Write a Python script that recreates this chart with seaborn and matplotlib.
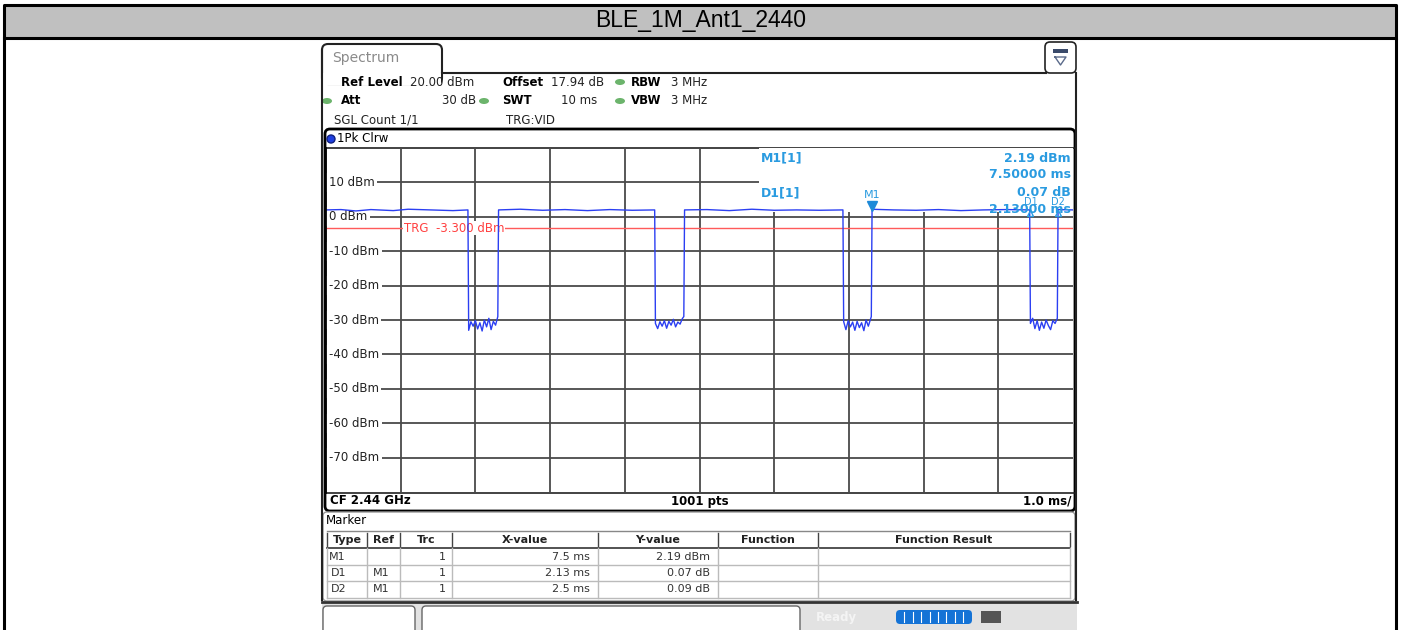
import pandas as pd
import seaborn as sns
import matplotlib.pyplot as plt
from matplotlib.patches import FancyBboxPatch, Rectangle, Ellipse

plt.rcParams['font.family'] = ['DejaVu Sans']

# 1. Trace values (time in ms, level in dBm)
t_ms = [0.00, 0.20, 0.40, 0.60, 0.90, 1.10, 1.40, 1.70, 1.90,
        1.91, 1.94, 1.97, 2.00, 2.03, 2.06, 2.09, 2.12, 2.15, 2.18, 2.21, 2.24, 2.27, 2.30,
        2.31, 2.60, 2.90, 3.20, 3.50, 3.80, 4.10, 4.40,
        4.41, 4.44, 4.47, 4.50, 4.53, 4.56, 4.59, 4.62, 4.65, 4.68, 4.71, 4.74, 4.77, 4.79,
        4.80, 5.10, 5.40, 5.70, 6.00, 6.30, 6.60, 6.92,
        6.93, 6.96, 6.99, 7.02, 7.05, 7.08, 7.11, 7.14, 7.17, 7.20, 7.23, 7.26, 7.30,
        7.31, 7.60, 7.90, 8.20, 8.50, 8.80, 9.10, 9.42,
        9.43, 9.46, 9.49, 9.52, 9.55, 9.58, 9.61, 9.64, 9.67, 9.70, 9.73, 9.76, 9.79,
        9.80, 10.00]
level_dbm = [2.0, 2.1, 1.7, 2.1, 1.8, 2.2, 2.0, 1.8, 2.0,
             -33.0, -30.5, -31.8, -30.2, -32.6, -30.8, -33.2, -30.0, -32.0, -29.5, -32.8, -30.4, -31.5, -29.0,
             2.0, 2.2, 1.9, 2.1, 1.8, 2.1, 1.9, 2.0,
             -31.0, -32.5, -30.5, -31.8, -30.2, -32.4, -30.4, -31.5, -29.8, -32.0, -30.6, -31.2, -29.6, -29.0,
             2.0, 2.1, 1.8, 2.2, 1.9, 2.0, 1.9, 2.0,
             -30.5, -32.8, -30.2, -32.0, -30.6, -33.0, -30.4, -32.2, -30.8, -33.1, -30.0, -31.8, -29.0,
             2.19, 2.0, 1.9, 2.1, 1.8, 2.0, 2.1, 2.0,
             -31.0, -29.5, -32.5, -30.2, -33.0, -30.6, -32.4, -30.0, -31.6, -32.8, -30.2, -31.0, -29.5,
             2.1, 2.0]
trace = pd.DataFrame({'t': t_ms, 'dbm': level_dbm})

y_ticks = [10, 0, -10, -20, -30, -40, -50, -60, -70]
y_labels = ['10 dBm', '0 dBm', '-10 dBm', '-20 dBm', '-30 dBm',
            '-40 dBm', '-50 dBm', '-60 dBm', '-70 dBm']
x_ticks = [1, 2, 3, 4, 5, 6, 7, 8, 9]
trg_level = -3.3

marker_names = ['M1', 'D1', 'D2']
marker_t = [7.31, 9.43, 9.80]
marker_info = [('M1[1]', '2.19 dBm', '7.50000 ms'), ('D1[1]', '0.07 dB', '2.13000 ms')]

table_cols = ['Type', 'Ref', 'Trc', 'X-value', 'Y-value', 'Function', 'Function Result']
table_rows = [['M1', '', '1', '7.5 ms', '2.19 dBm', '', ''],
              ['D1', 'M1', '1', '2.13 ms', '0.07 dB', '', ''],
              ['D2', 'M1', '1', '2.5 ms', '0.09 dB', '', '']]

BLUE = '#2b3ff2'
LBLUE = '#2a9be0'
GREEN = '#6cb46c'

# 2. Figure with a pixel canvas behind
fig = plt.figure(figsize=(14.03, 6.30), dpi=100)
bg = fig.add_axes([0, 0, 1, 1])
bg.set_xlim(0, 1403)
bg.set_ylim(630, 0)
bg.axis('off')

# outer frame + title bar
bg.add_patch(Rectangle((4, 5), 1391.5, 32.5, facecolor='#c0c0c0', edgecolor='none'))
bg.plot([4, 1395.5, 1395.5], [37.5, 37.5, 640], color='black', lw=2.2)
bg.plot([4, 4, 1395.5, 1395.5], [640, 4.5, 4.5, 37.5], color='black', lw=2.2)
bg.text(701, 21, 'BLE_1M_Ant1_2440', ha='center', va='center', fontsize=16.5,
        family='Liberation Sans')

# spectrum tab + panel outline
bg.plot([322, 322], [600, 50], color='#222', lw=1.5)
bg.add_patch(FancyBboxPatch((322, 44), 120, 40, boxstyle='round,pad=0,rounding_size=6',
                            facecolor='white', edgecolor='#222', lw=1.5))
bg.add_patch(Rectangle((323, 73), 118, 12, facecolor='white', edgecolor='none'))
bg.plot([442, 1046], [72.5, 72.5], color='#222', lw=1.5)
bg.plot([1076, 1076], [73, 600], color='#222', lw=1.5)
bg.text(332, 58, 'Spectrum', fontsize=10, color='#8a8a8a', va='center')
bg.add_patch(FancyBboxPatch((1045, 42), 31, 31, boxstyle='round,pad=0,rounding_size=5',
                            facecolor='white', edgecolor='#222', lw=1.2))
bg.add_patch(Rectangle((1053, 49), 15, 4, facecolor='#3a4a6a', edgecolor='none'))
bg.plot([1055, 1066, 1060.5, 1055], [57, 57, 65, 57], color='#5a6a8a', lw=1)

# header settings
hs = 8.5
bg.text(341, 82, 'Ref Level', fontsize=hs, weight='bold', va='center')
bg.text(410, 82, '20.00 dBm', fontsize=hs, va='center', color='#222')
bg.text(502, 82, 'Offset', fontsize=hs, weight='bold', va='center')
bg.text(551, 82, '17.94 dB', fontsize=hs, va='center', color='#222')
bg.text(631, 82, 'RBW', fontsize=hs, weight='bold', va='center')
bg.text(671, 82, '3 MHz', fontsize=hs, va='center', color='#222')
bg.text(341, 101, 'Att', fontsize=hs, weight='bold', va='center')
bg.text(476, 101, '30 dB', fontsize=hs, va='center', ha='right', color='#222')
bg.text(502, 101, 'SWT', fontsize=hs, weight='bold', va='center')
bg.text(597, 101, '10 ms', fontsize=hs, va='center', ha='right', color='#222')
bg.text(631, 101, 'VBW', fontsize=hs, weight='bold', va='center')
bg.text(671, 101, '3 MHz', fontsize=hs, va='center', color='#222')
for gx, gy in [(620, 82), (327, 101), (484, 101), (620, 101)]:
    bg.add_patch(Ellipse((gx, gy), 10, 6, facecolor=GREEN, edgecolor='none'))
bg.text(334, 120, 'SGL Count 1/1', fontsize=hs, va='center', color='#222')
bg.text(506, 120, 'TRG:VID', fontsize=hs, va='center', color='#222')

# trace window frame
bg.add_patch(FancyBboxPatch((325, 129), 750, 382, boxstyle='round,pad=0,rounding_size=5',
                            facecolor='white', edgecolor='black', lw=2))
bg.plot([326, 1074], [147.5, 147.5], color='#222', lw=1.2)
bg.plot([326, 1074], [492.5, 492.5], color='#222', lw=1.2)
bg.add_patch(Ellipse((331, 139), 8, 8, facecolor='#1f3fe0', edgecolor='#102080'))
bg.text(337, 139, '1Pk Clrw', fontsize=8.5, va='center')
bg.text(330, 501, 'CF 2.44 GHz', fontsize=8.5, weight='bold', va='center')
bg.text(700, 501, '1001 pts', fontsize=8.5, weight='bold', va='center', ha='center')
bg.text(1071, 501, '1.0 ms/', fontsize=8.5, weight='bold', va='center', ha='right')

# 3. Trace axes
ax = fig.add_axes([326 / 1403, 1 - 492 / 630, 747 / 1403, 344 / 630], zorder=2)
ax.patch.set_visible(False)
ax.set_xlim(0, 10)
ax.set_ylim(-80, 20)
ax.set_axisbelow(True)
ax.set_xticks(x_ticks)
ax.set_yticks(y_ticks)
ax.grid(True, color='#4a4a4a', lw=1.3)
ax.tick_params(length=0, labelbottom=False, labelleft=False)
for s in ax.spines.values():
    s.set_visible(False)

# marker info box hides the grid in the upper right
ax.add_patch(Rectangle((5.8, 1.3), 4.2, 18.7, facecolor='white', edgecolor='none', zorder=1))

for yv, lab in zip(y_ticks, y_labels):
    ax.text(0.035, yv, lab, fontsize=8.5, va='center', ha='left', zorder=1.5, color='#222',
            bbox=dict(facecolor='white', edgecolor='none', pad=2))
# keep the window's left edge on top of the label boxes
bg_left = bg.transData + ax.transData.inverted()
ax.plot([325, 325], [148, 492], color='black', lw=2, zorder=6, clip_on=False,
        transform=bg.transData)

ax.axhline(trg_level, color='#ff5a5a', lw=1, zorder=1.2)
ax.text(1.04, trg_level, 'TRG  -3.300 dBm', fontsize=8.5, color='#ff4040', va='center',
        zorder=1.6, bbox=dict(facecolor='white', edgecolor='none', pad=0.3))

sns.lineplot(data=trace, x='t', y='dbm', ax=ax, color=BLUE, lw=1, sort=False,
             estimator=None, zorder=3)
ax.set_xlabel('')
ax.set_ylabel('')

# markers on the trace
ax.plot(marker_t[0], 3.0, marker='v', color='#1e8ad8', ms=7, zorder=4)
ax.text(marker_t[0], 6.3, marker_names[0], fontsize=8, color=LBLUE, ha='center', va='center', zorder=4)
for name, tm in zip(marker_names[1:], marker_t[1:]):
    ax.plot(tm, 1.0, marker='^', color=LBLUE, ms=4, mfc='none', zorder=4)
    ax.text(tm, 4.4, name, fontsize=7, color=LBLUE, ha='center', va='center', zorder=4)

# marker readout (drawn with the trace axes so it sits over the white box)
mk = dict(fontsize=9, weight='bold', color=LBLUE, va='center', zorder=5,
          transform=bg.transData, clip_on=False)
for (name, val, xval), yv in zip(marker_info, [158, 193]):
    ax.text(761, yv, name, **mk)
    ax.text(1071, yv, val, ha='right', **mk)
    ax.text(1071, yv + 16.5, xval, ha='right', **mk)

# 4. Marker table
bg.add_patch(FancyBboxPatch((323, 512), 752, 89, boxstyle='round,pad=0,rounding_size=4',
                            facecolor='white', edgecolor='#999', lw=1))
bg.text(326, 521, 'Marker', fontsize=8.5, va='center')
col_x = [327, 367, 400, 452, 598, 718, 818, 1070]
row_y = [531, 548, 565, 581, 598]
bg.plot([327, 1070], [531, 531], color='#888', lw=1)
bg.plot([327, 1070], [548, 548], color='#444', lw=1.3)
for yv in row_y[2:]:
    bg.plot([327, 1070], [yv, yv], color='#bbb', lw=1)
for xv in col_x:
    bg.plot([xv, xv], [533, 546], color='#444', lw=1)
    bg.plot([xv, xv], [548, 598], color='#bbb', lw=1)
for i, c in enumerate(table_cols):
    bg.text((col_x[i] + col_x[i + 1]) / 2, 540, c, fontsize=8, weight='bold',
            ha='center', va='center', color='#222')
right_x = [346, 389, 446, 590, 710, 810, 1062]
for r, row in enumerate(table_rows):
    yc = (row_y[r + 1] + row_y[r + 2]) / 2
    for i, v in enumerate(row):
        bg.text(right_x[i], yc, v, fontsize=8, ha='right', va='center', color='#333')

# 5. Status bar
bg.add_patch(Rectangle((322, 601), 755, 30, facecolor='#e2e2e2', edgecolor='none'))
bg.plot([322, 1077], [602, 602], color='#333', lw=2)
bg.add_patch(FancyBboxPatch((323, 606), 92, 30, boxstyle='round,pad=0,rounding_size=4',
                            facecolor='white', edgecolor='#666', lw=1))
bg.add_patch(FancyBboxPatch((422, 606), 378, 30, boxstyle='round,pad=0,rounding_size=4',
                            facecolor='white', edgecolor='#666', lw=1))
bg.text(836, 617, 'Ready', fontsize=8.5, weight='bold', color='#f4f4f4', ha='center', va='center')
bg.add_patch(FancyBboxPatch((896, 610), 76, 14, boxstyle='round,pad=0,rounding_size=4',
                            facecolor='#1473d6', edgecolor='none'))
for k in range(1, 9):
    bg.plot([896 + k * 8.4, 896 + k * 8.4], [612, 622], color='white', lw=0.8)
bg.add_patch(Rectangle((981, 611), 20, 12, facecolor='#555', edgecolor='none'))

fig.savefig('out.png', dpi=100)
